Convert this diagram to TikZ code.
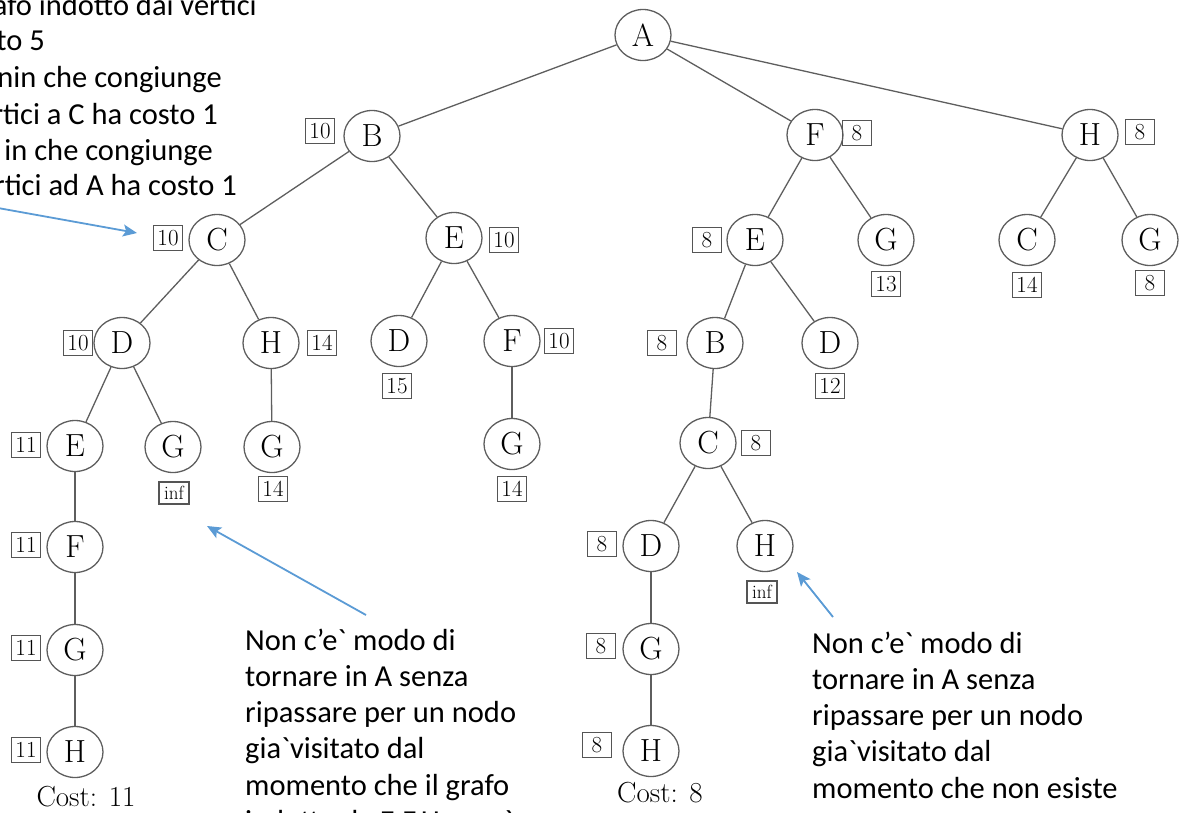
\documentclass[tikz,border=0pt]{standalone}
\usepackage{fontspec}
\newfontfamily\calib{Carlito}
\usetikzlibrary{shapes.geometric,arrows.meta}
\definecolor{edgegray}{HTML}{5E5E5E}
\definecolor{boxgray}{HTML}{555555}
\definecolor{callblue}{HTML}{5B9BD5}
\begin{document}
\begin{tikzpicture}[x=1pt,y=-1pt,
  tn/.style={ellipse,draw=edgegray,line width=1.3pt,minimum width=56pt,minimum height=51pt,inner sep=0pt,font=\fontsize{32}{36}\selectfont},
  lab/.style={draw=boxgray,line width=1.1pt,minimum width=29pt,minimum height=25pt,inner sep=1.5pt,font=\fontsize{23}{26}\selectfont},
  labi/.style={lab,minimum width=30pt,minimum height=22pt,font=\fontsize{19}{22}\selectfont},
  costtxt/.style={font=\fontsize{29}{32}\selectfont,inner sep=0pt},
  tedge/.style={draw=edgegray,line width=1.3pt},
  callout/.style={draw=callblue,line width=1.8pt,-{Stealth[length=14pt,width=12pt,inset=3pt]}},
  note/.style={font=\calib\fontsize{30.5}{36.5}\selectfont,inner sep=0pt}]
\useasboundingbox (0,0) rectangle (1191,812);
\clip (0,0) rectangle (1191,812);
% tree nodes
\node[tn] (n1) at (643,35) {A};
\node[tn] (n2) at (372,136) {B};
\node[tn] (n3) at (815,135) {F};
\node[tn] (n4) at (1090,135) {H};
\node[tn] (n5) at (217,240) {C};
\node[tn] (n6) at (454,238) {E};
\node[tn] (n7) at (755,240) {E};
\node[tn] (n8) at (886,240) {G};
\node[tn] (n9) at (1027,240) {C};
\node[tn] (n10) at (1150,240) {G};
\node[tn] (n11) at (122,343) {D};
\node[tn] (n12) at (271,343) {H};
\node[tn] (n13) at (399,341) {D};
\node[tn] (n14) at (512,341) {F};
\node[tn] (n15) at (715,343) {B};
\node[tn] (n16) at (830,343) {D};
\node[tn] (n17) at (75,446) {E};
\node[tn] (n18) at (173,447) {G};
\node[tn] (n19) at (272,447) {G};
\node[tn] (n20) at (512,444) {G};
\node[tn] (n21) at (708,443) {C};
\node[tn] (n22) at (75,547) {F};
\node[tn] (n23) at (651,546) {D};
\node[tn] (n24) at (765,546) {H};
\node[tn] (n25) at (75,650) {G};
\node[tn] (n26) at (651,649) {G};
\node[tn] (n27) at (75,752) {H};
\node[tn] (n28) at (651,751) {H};
% cost labels
\node[lab] (l2) at (320,131) {10};
\node[lab] (l3) at (857,133) {8};
\node[lab] (l4) at (1140,132) {8};
\node[lab] (l5) at (168,238) {10};
\node[lab] (l6) at (504,240) {10};
\node[lab] (l7) at (707,240) {8};
\node[lab] (l8) at (886,284) {13};
\node[lab] (l9) at (1027,285) {14};
\node[lab] (l10) at (1150,283) {8};
\node[lab] (l11) at (78,343) {10};
\node[lab] (l12) at (322,343) {14};
\node[lab] (l13) at (397,386) {15};
\node[lab] (l14) at (559,341) {10};
\node[lab] (l15) at (662,343) {8};
\node[lab] (l16) at (830,386) {12};
\node[lab] (l17) at (26,445) {11};
\node[labi] (l18) at (174,493) {inf};
\node[lab] (l19) at (273,489) {14};
\node[lab] (l20) at (512,489) {14};
\node[lab] (l21) at (756,443) {8};
\node[lab] (l22) at (26,545) {11};
\node[lab] (l23) at (602,544) {8};
\node[labi] (l24) at (762,592) {inf};
\node[lab] (l25) at (26,648) {11};
\node[lab] (l26) at (601,646) {8};
\node[lab] (l27) at (26,750) {11};
\node[lab] (l28) at (597,745) {8};
\node[costtxt] (c1) at (86,797) {Cost: 11};
\node[costtxt] (c2) at (660,793) {Cost: 8};
% tree edges
\foreach \a/\b in {n1/n2,n1/n3,n1/n4,n2/n5,n2/n6,n5/n11,n5/n12,n11/n17,n11/n18,
  n17/n22,n22/n25,n25/n27,n12/n19,n6/n13,n6/n14,n14/n20,n3/n7,n3/n8,n7/n15,n7/n16,
  n15/n21,n21/n23,n21/n24,n23/n26,n26/n28,n4/n9,n4/n10}
  \draw[tedge] (\a) -- (\b);
% notes
\foreach \t/\x/\y in {afo indotto dai vertici/257/15, to 5/45/50, nin che congiunge/222/87,
  rtici a C ha costo 1/218/124, in che congiunge/213/160, rtici ad A ha costo 1/237/195}
  \node[note,anchor=base east] at (\x,\y) {\t};
\foreach \t [count=\i from 0] in {Non c’e` modo di, tornare in A senza, ripassare per un nodo,
  gia`visitato dal, momento che il grafo, indotto da E{,}F{,}H non è}
  \node[note,anchor=base west] at (245,650+36.3*\i) {\t};
\foreach \t [count=\i from 0] in {Non c’e` modo di, tornare in A senza, ripassare per un nodo,
  gia`visitato dal, momento che non esiste}
  \node[note,anchor=base west] at (812,653+36.3*\i) {\t};
% callout arrows
\coordinate (a1s) at (-2,208);
\coordinate (a1e) at (137,233);
\coordinate (a2s) at (366,615);
\coordinate (a2e) at (207,526);
\coordinate (a3s) at (833,617);
\coordinate (a3e) at (797,572);
\draw[callout] (a1s) -- (a1e);
\draw[callout] (a2s) -- (a2e);
\draw[callout] (a3s) -- (a3e);
\end{tikzpicture}
\end{document}
